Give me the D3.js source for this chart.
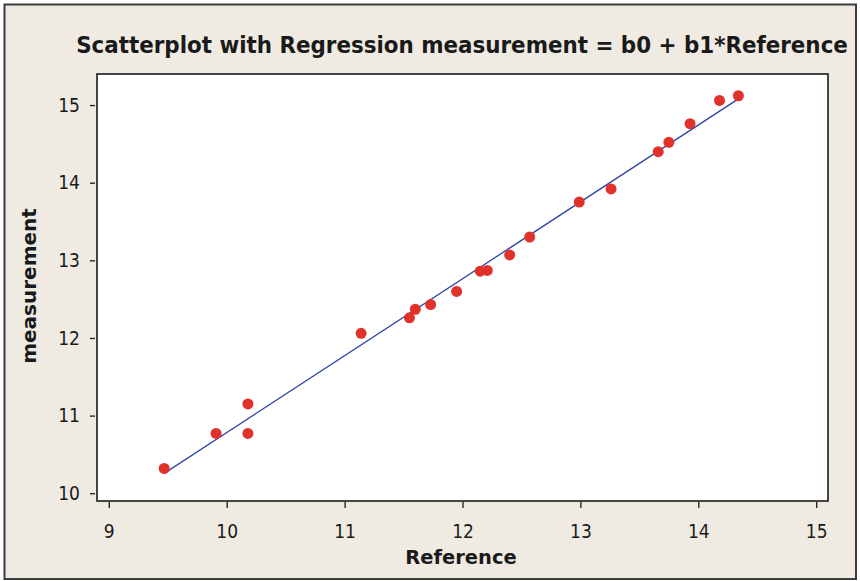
<!DOCTYPE html>
<html>
<head>
<meta charset="utf-8">
<script src="https://cdn.jsdelivr.net/npm/d3@7"></script>
<style>
  html, body { margin: 0; padding: 0; background: #ffffff; }
  svg { display: block; }
</style>
</head>
<body>
<svg id="chart" width="860" height="581"></svg>
<script>
// Paired observations: reference value and the measured value
const reference = [9.47, 9.91, 10.18, 10.18, 11.14, 11.55, 11.60, 11.73, 11.95, 12.15,
                   12.21, 12.40, 12.57, 12.99, 13.26, 13.66, 13.75, 13.93, 14.18, 14.34];
const measurement = [10.32, 10.77, 11.15, 10.77, 12.06, 12.26, 12.37, 12.43, 12.60, 12.86,
                     12.87, 13.07, 13.30, 13.75, 13.92, 14.40, 14.52, 14.76, 15.06, 15.12];

const xTicks = [9, 10, 11, 12, 13, 14, 15];
const yTicks = [10, 11, 12, 13, 14, 15];

const titleText = "Scatterplot with Regression measurement = b0 + b1*Reference";
const xLabel = "Reference";
const yLabel = "measurement";

const plot = { left: 97, top: 74, right: 828, bottom: 501 };

const svg = d3.select("#chart");

// Panel background and frame
svg.append("rect")
  .attr("x", 4.5).attr("y", 4.5)
  .attr("width", 851.5).attr("height", 574.5)
  .attr("fill", "#efebe2")
  .attr("stroke", "#3c3c3c")
  .attr("stroke-width", 2);

// Data region
svg.append("rect")
  .attr("x", plot.left).attr("y", plot.top)
  .attr("width", plot.right - plot.left).attr("height", plot.bottom - plot.top)
  .attr("fill", "#ffffff")
  .attr("stroke", "#1a1a1a")
  .attr("stroke-width", 1.6);

const x = d3.scaleLinear().domain([8.9, 15.1]).range([plot.left, plot.right]);
const y = d3.scaleLinear().domain([9.9, 15.4]).range([plot.bottom, plot.top]);

const tickFont = "'DejaVu Sans Condensed', 'DejaVu Sans', sans-serif";

// Y axis (ticks sit just outside the frame)
const yAxis = svg.append("g")
  .attr("transform", `translate(${plot.left - 2},0)`)
  .call(d3.axisLeft(y).tickValues(yTicks).tickSize(5).tickPadding(10).tickFormat(d3.format("d")));
yAxis.select(".domain").remove();
yAxis.selectAll("line").attr("stroke", "#1a1a1a").attr("stroke-width", 1.3);
yAxis.selectAll("text")
  .attr("fill", "#1a1a1a")
  .style("font-family", tickFont)
  .style("font-size", "19px");

// X axis
const xAxis = svg.append("g")
  .attr("transform", `translate(0,${plot.bottom + 1})`)
  .call(d3.axisBottom(x).tickValues(xTicks).tickSize(6).tickPadding(17).tickFormat(d3.format("d")));
xAxis.select(".domain").remove();
xAxis.selectAll("line").attr("stroke", "#1a1a1a").attr("stroke-width", 1.3);
xAxis.selectAll("text")
  .attr("fill", "#1a1a1a")
  .attr("dy", "0.71em")
  .style("font-family", tickFont)
  .style("font-size", "19px");

// Least-squares fit: measurement = b0 + b1 * Reference
const mx = d3.mean(reference), my = d3.mean(measurement);
let sxy = 0, sxx = 0;
reference.forEach((r, i) => {
  sxy += (r - mx) * (measurement[i] - my);
  sxx += (r - mx) * (r - mx);
});
const b1 = sxy / sxx;
const b0 = my - b1 * mx;
const [xmin, xmax] = d3.extent(reference);

svg.append("line")
  .attr("x1", x(xmin)).attr("y1", y(b0 + b1 * xmin))
  .attr("x2", x(xmax)).attr("y2", y(b0 + b1 * xmax))
  .attr("stroke", "#2f45a8")
  .attr("stroke-width", 1.3);

// Observations
svg.append("g")
  .selectAll("circle")
  .data(reference.map((r, i) => ({ r, m: measurement[i] })))
  .join("circle")
  .attr("cx", d => x(d.r))
  .attr("cy", d => y(d.m))
  .attr("r", 5.5)
  .attr("fill", "#e0322a");

const boldFont = "'DejaVu Sans', Verdana, sans-serif";
const titleFont = "'DejaVu Sans Condensed', 'DejaVu Sans', sans-serif";

// Title, sized to span the header
const title = svg.append("text")
  .attr("x", 462).attr("y", 53)
  .attr("text-anchor", "middle")
  .attr("fill", "#1a1a1a")
  .style("font-family", titleFont)
  .style("font-weight", "bold")
  .style("font-size", "22px")
  .text(titleText);
const tw = title.node().getComputedTextLength();
title.style("font-size", (22 * 772 / tw).toFixed(2) + "px");

// Axis titles
svg.append("text")
  .attr("x", 461).attr("y", 564)
  .attr("text-anchor", "middle")
  .attr("fill", "#1a1a1a")
  .style("font-family", boldFont)
  .style("font-weight", "bold")
  .style("font-size", "19.5px")
  .text(xLabel);

svg.append("text")
  .attr("transform", "translate(36,286) rotate(-90)")
  .attr("text-anchor", "middle")
  .attr("fill", "#1a1a1a")
  .style("font-family", boldFont)
  .style("font-weight", "bold")
  .style("font-size", "20px")
  .text(yLabel);
</script>
</body>
</html>
